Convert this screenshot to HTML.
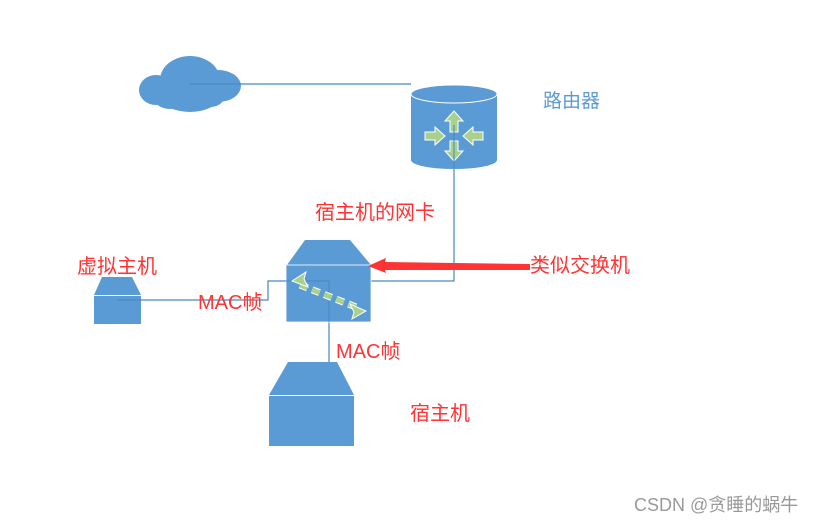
<!DOCTYPE html>
<html><head><meta charset="utf-8"><style>
body{margin:0;background:#fff;width:821px;height:523px;overflow:hidden}
svg{display:block}
text{font-family:"Liberation Sans","Noto Sans CJK SC",sans-serif}
</style></head><body>
<svg width="821" height="523" viewBox="0 0 821 523">
<g fill="#5b9bd5">
<ellipse cx="190" cy="80" rx="30" ry="24"/>
<ellipse cx="156" cy="90" rx="17" ry="15"/>
<ellipse cx="218" cy="86" rx="23" ry="16"/>
<ellipse cx="190" cy="98" rx="28" ry="14"/>
<ellipse cx="170" cy="98" rx="16" ry="11"/>
<ellipse cx="210" cy="97" rx="14" ry="10"/>
</g>
<g stroke="#4a86c0" stroke-width="1.2" fill="none">
<path d="M190 84H411"/>
<path d="M454 150V281H371"/>
<path d="M117 300H268V281H286"/>
<path d="M329 281V362"/>
</g>
<!-- router -->
<path d="M411 94V160A43 9 0 0 0 497 160V94Z" fill="#5b9bd5"/>
<ellipse cx="454" cy="94" rx="43" ry="9" fill="#5b9bd5" stroke="#fff" stroke-width="1"/>
<g fill="#a9d18e" stroke="#fff" stroke-width="1">
<path d="M454 111l-9 10h5v11h8v-11h5z"/>
<path d="M454 161l-9-10h5v-10h8v10h5z"/>
<path d="M445 136l-10-9v5h-10v8h10v5z"/>
<path d="M463 136l10-9v5h10v8h-10v5z"/>
</g>
<line x1="454" y1="125" x2="454" y2="168" stroke="#4a86c0" stroke-width="1"/>
<!-- switch -->
<path d="M305 240H350L371 265H287Z" fill="#5b9bd5"/>
<rect x="286" y="265" width="85" height="57" fill="#5b9bd5" stroke="#fff" stroke-width="0.8"/>
<line x1="280" y1="281" x2="329" y2="281" stroke="#4a86c0"/>
<line x1="329" y1="281" x2="329" y2="322" stroke="#4a86c0"/>
<g stroke="#fff" stroke-width="7"><line x1="300" y1="285" x2="356" y2="307" stroke-dasharray="8 5"/></g>
<g stroke="#a9d18e" stroke-width="5"><line x1="300" y1="285" x2="356" y2="307" stroke-dasharray="8 5"/></g>
<path d="M292 281l14-9-2 7 4 8z" fill="#a9d18e" stroke="#fff"/>
<path d="M366 311l-14 8 2-7-4-8z" fill="#a9d18e" stroke="#fff"/>
<!-- red arrow -->
<path d="M530 264L385 262L386 258L368 266L386 273L385 270L530 270Z" fill="#f33"/>
<!-- vm -->
<path d="M102 277H132L141 295H94Z" fill="#5b9bd5"/>
<rect x="94" y="296" width="47" height="28" fill="#5b9bd5"/>
<line x1="117" y1="300" x2="141" y2="300" stroke="#4a86c0"/>
<!-- host -->
<path d="M288 362H337L354 395H269Z" fill="#5b9bd5"/>
<rect x="269" y="396" width="85" height="50" fill="#5b9bd5"/>
<g font-size="20" fill="#f33">
<text x="315" y="219">宿主机的网卡</text>
<text x="77" y="273">虚拟主机</text>
<text x="198" y="309">MAC帧</text>
<text x="336" y="358">MAC帧</text>
<text x="530" y="272">类似交换机</text>
<text x="410" y="420">宿主机</text>
</g>
<text x="543" y="107" font-size="19" fill="#5b9bd5">路由器</text>
<text x="634" y="511" font-size="18" fill="#999">CSDN @贪睡的蜗牛</text>
</svg>
</body></html>
